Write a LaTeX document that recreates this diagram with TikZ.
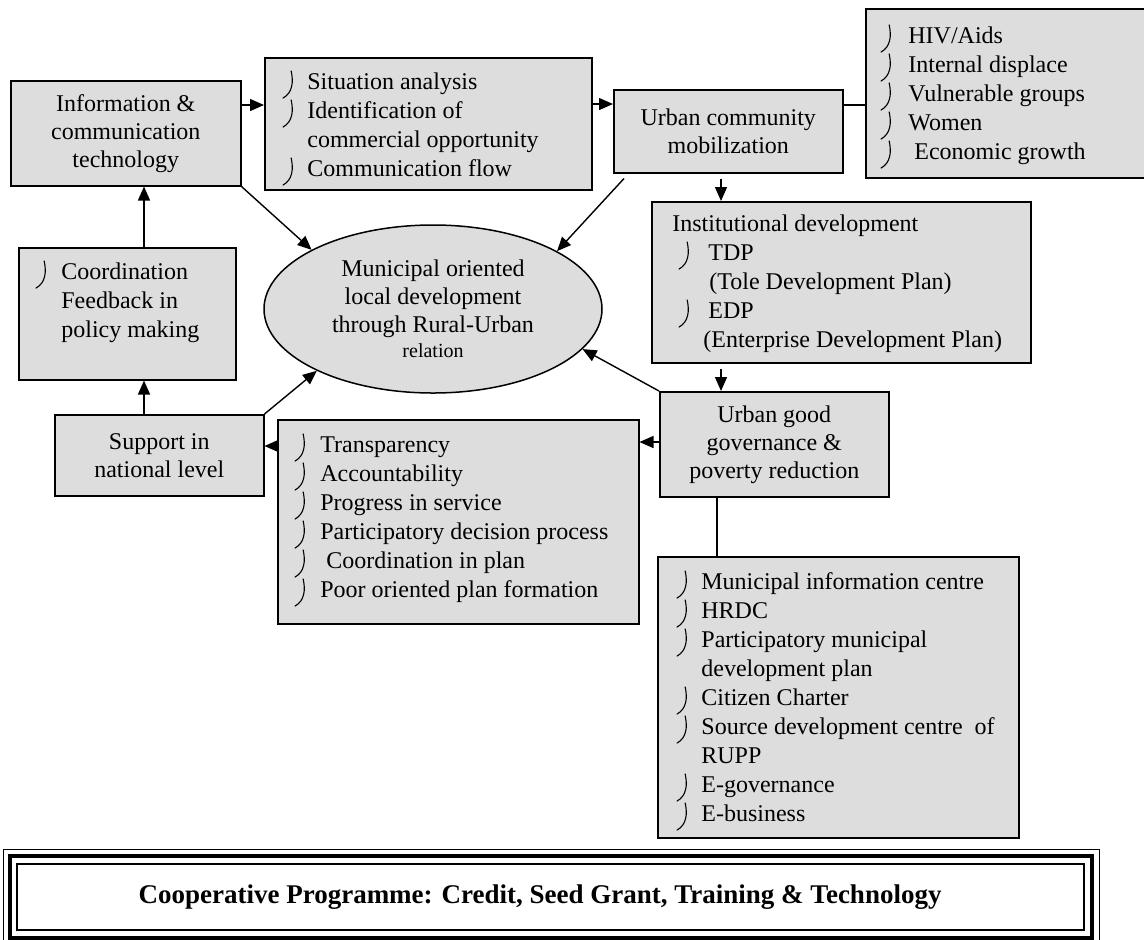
\documentclass[tikz,border=0pt]{standalone}
\usepackage{fontspec}
\setmainfont{Liberation Serif}
\usetikzlibrary{shapes.geometric,arrows.meta}
\definecolor{boxgray}{RGB}{221,221,221}
% list mark: a thin hooked stroke in front of each item
\newcommand\hk{\tikz[baseline=0pt]\draw[line width=0.55pt,line cap=round] (4.4pt,9.4pt) .. controls (5.6pt,4pt) and (5.2pt,-1.5pt) .. (0.3pt,-4.2pt);}
\newcommand\bi[1]{\makebox[#1][l]{\hk}}
\begin{document}
\begin{tikzpicture}[x=0.5pt,y=-0.5pt,
  box/.style={draw, line width=0.75pt, fill=boxgray, inner sep=0pt, anchor=north west},
  ctr/.style={align=center, font=\fontsize{12pt}{14pt}\selectfont},
  lst/.style={inner sep=0pt, anchor=north west, align=left, font=\fontsize{12pt}{14.5pt}\selectfont},
  arr/.style={line width=0.7pt, -{Triangle[length=7pt,width=6pt]}},
  lnk/.style={line width=0.7pt}]
\useasboundingbox (0,0) rectangle (1144,939);

% boxes
\node[box, ctr, minimum width=115pt, minimum height=52.5pt] (ict) at (10,80)
  {Information \&\\communication\\technology};
\node[box, minimum width=163.5pt, minimum height=66pt] (sit) at (264,57) {};
\node[box, ctr, minimum width=114.5pt, minimum height=41.5pt] (ucm) at (613,89)
  {Urban community\\mobilization};
\node[box, minimum width=140pt, minimum height=84.5pt] (hiv) at (865,8) {};
\node[box, minimum width=189.5pt, minimum height=80.5pt] (inst) at (651,201) {};
\node[box, minimum width=108.5pt, minimum height=66pt] (coord) at (18,247) {};
\node[box, ctr, minimum width=104.5pt, minimum height=40.5pt] (supp) at (54,414)
  {Support in\\national level};
\node[box, minimum width=180.5pt, minimum height=102pt] (trans) at (277,419) {};
\node[box, ctr, minimum width=114.5pt, minimum height=52.5pt] (ugg) at (659,391)
  {Urban good\\governance \&\\poverty reduction};
\node[box, minimum width=180.5pt, minimum height=140.5pt] (muni) at (657,556) {};

% centre ellipse
\node[draw, line width=0.75pt, fill=boxgray, ellipse, inner sep=0pt,
      minimum width=169pt, minimum height=84pt, ctr] (ell) at (433,309)
  {Municipal oriented\\local development\\through Rural-Urban\\[-1.5pt]{\fontsize{10pt}{12pt}\selectfont relation}};

% item lists
\node[lst] (sit-t) at (282,69) {\strut\bi{12.5pt}Situation analysis\\
  \bi{12.5pt}Identification of\\
  \hspace*{12.5pt}commercial opportunity\\
  \bi{12.5pt}Communication flow};
\node[lst] (hiv-t) at (880,23) {\strut\bi{14pt}HIV/Aids\\
  \bi{14pt}Internal displace\\
  \bi{14pt}Vulnerable groups\\
  \bi{14pt}Women\\
  \bi{14pt}\ Economic growth};
\node[lst] (inst-t) at (672,211) {\strut Institutional development\\
  \hspace*{3pt}\bi{15pt}TDP\\
  \hspace*{18.5pt}(Tole Development Plan)\\
  \hspace*{3pt}\bi{15pt}EDP\\
  \hspace*{15.5pt}(Enterprise Development Plan)};
\node[lst] (coord-t) at (35,259) {\strut\bi{13pt}Coordination\\
  \hspace*{13pt}Feedback in\\
  \hspace*{13pt}policy making};
\node[lst] (trans-t) at (294,432) {\strut\bi{13pt}Transparency\\
  \bi{13pt}Accountability\\
  \bi{13pt}Progress in service\\
  \bi{13pt}Participatory decision process\\
  \bi{13pt}\ Coordination in plan\\
  \bi{13pt}Poor oriented plan formation};
\node[lst] (muni-t) at (676,569) {\strut\bi{12.5pt}Municipal information centre\\
  \bi{12.5pt}HRDC\\
  \bi{12.5pt}Participatory municipal\\
  \hspace*{12.5pt}development plan\\
  \bi{12.5pt}Citizen Charter\\
  \bi{12.5pt}Source development centre\ \ of\\
  \hspace*{12.5pt}RUPP\\
  \bi{12.5pt}E-governance\\
  \bi{12.5pt}E-business};

% connectors along the top row
\draw[arr] ([yshift=-12.5pt]ict.north east) -- ([yshift=-12.5pt]ict.north east -| sit.west);
\draw[arr] ([yshift=-7.5pt]ucm.north west -| sit.east) -- ([yshift=-7.5pt]ucm.north west);
\draw[lnk] ([yshift=-8pt]ucm.north east) -- ([yshift=-8pt]ucm.north east -| hiv.west);

% left column
\draw[arr] ([xshift=63pt]coord.north west) -- ([xshift=63pt]coord.north west |- ict.south);
\draw[arr] ([xshift=63pt]coord.north west |- supp.north) -- ([xshift=63pt]coord.north west |- coord.south);

% right column
\draw[arr] ([xshift=54pt,yshift=-2.5pt]ucm.south west) -- ([xshift=54pt]ucm.south west |- inst.north);
\draw[arr] ([xshift=35pt,yshift=-2.5pt]inst.south west) -- ([xshift=35pt]inst.south west |- ugg.north);
\draw[lnk] ([xshift=29pt]ugg.south west) -- ([xshift=29pt]ugg.south west |- muni.north);

% lower row
\draw[arr] ([yshift=-25.5pt]ugg.north west) -- ([yshift=-25.5pt]ugg.north west -| trans.east);
\draw[arr] ([yshift=-13.5pt]trans.north west) -- ([yshift=-13.5pt]trans.north west -| supp.east);

% into the centre
\draw[arr] (ict.south east) -- (ell.154.75);
\draw[arr] ([xshift=5.5pt,yshift=-2.5pt]ucm.south west) -- (ell.25.4);
\draw[arr] (ugg.north west) -- (ell.-15.2);
\draw[arr] (supp.north east) -- (ell.208.7);

% framed banner
\begin{scope}
\clip (0,0) rectangle (1144,939);
\draw[line width=0.5pt] (3,849) rectangle (1099,952);
\draw[line width=2pt] (10,856) rectangle (1092,938);
\draw[line width=0.8pt] (17,864) rectangle (1084,930);
\end{scope}
\node[font=\bfseries\fontsize{13.5pt}{15pt}\selectfont] (coop) at (540,897)
  {Cooperative Programme: Credit, Seed Grant, Training \& Technology};
\end{tikzpicture}
\end{document}
